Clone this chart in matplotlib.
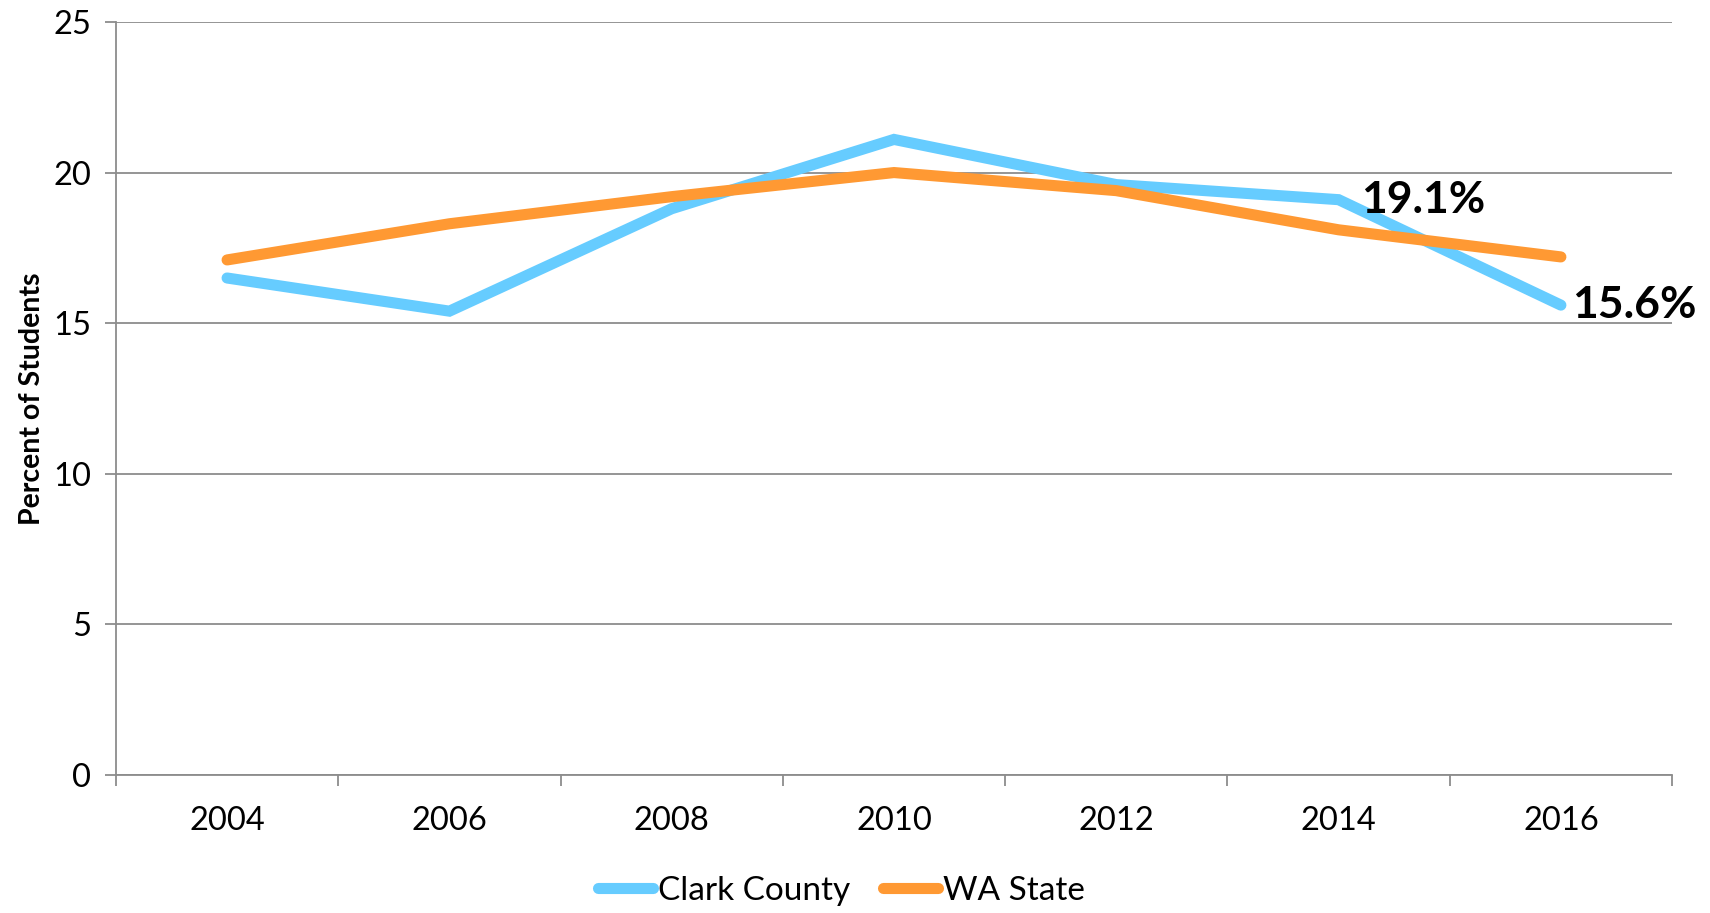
import matplotlib
matplotlib.use("Agg")
import matplotlib.pyplot as plt
import numpy as np

years = ["2004", "2006", "2008", "2010", "2012", "2014", "2016"]
clark = [16.5, 15.4, 18.8, 21.1, 19.6, 19.1, 15.6]
wa = [17.1, 18.3, 19.2, 20.0, 19.4, 18.1, 17.2]
series_names = ["Clark County", "WA State"]
labels = [(5, 19.1, "19.1%"), (6, 15.6, "15.6%")]

plt.rcParams['font.family'] = ['Lato', 'DejaVu Sans']

fig = plt.figure(figsize=(17.1, 9.13), dpi=100)
ax = fig.add_axes([0.0678, 0.151, 0.910, 0.825])

x = np.arange(len(years))
blue = "#66CCFF"
orange = "#FF9933"
ax.plot(x, clark, color=blue, lw=8, solid_capstyle='round', solid_joinstyle='miter', label=series_names[0], zorder=3)
ax.plot(x, wa, color=orange, lw=8, solid_capstyle='round', solid_joinstyle='miter', label=series_names[1], zorder=3)

ax.set_xlim(-0.5, len(years) - 0.5)
ax.set_ylim(0, 25)
ax.set_yticks([0, 5, 10, 15, 20, 25])
ax.yaxis.grid(True, color="#8c8c8c", lw=1.3)
ax.set_axisbelow(True)

ax.set_xticks(np.arange(-0.5, len(years), 1.0))
ax.set_xticklabels([])
ax.set_xticks(x, minor=True)
ax.set_xticklabels(years, minor=True)
ax.tick_params(axis='x', which='major', length=8, width=1.3, color="#8c8c8c", direction='out')
ax.tick_params(axis='x', which='minor', length=0, pad=22, labelsize=23.5)
ax.tick_params(axis='y', length=8, width=1.3, color="#8c8c8c", labelsize=23.5, pad=10)

for s in ['top', 'right']:
    ax.spines[s].set_visible(False)
for s in ['left', 'bottom']:
    ax.spines[s].set_color("#8c8c8c")
    ax.spines[s].set_linewidth(1.3)

ax.set_ylabel("Percent of Students", fontsize=20.5, fontweight='bold', labelpad=6)

offsets = [16, 8]
for (xi, yi, txt), off in zip(labels, offsets):
    ax.annotate(txt, (xi, yi), xytext=(off, 0), textcoords='offset points',
                ha='left', va='center', fontsize=32, fontweight='bold', zorder=5,
                annotation_clip=False)

fig.legend(loc='center', bbox_to_anchor=(0.492, 0.024), ncol=2, frameon=False,
           fontsize=24, handlelength=1.65, handletextpad=0.15, columnspacing=1.0)

fig.savefig("out.png", dpi=100)
